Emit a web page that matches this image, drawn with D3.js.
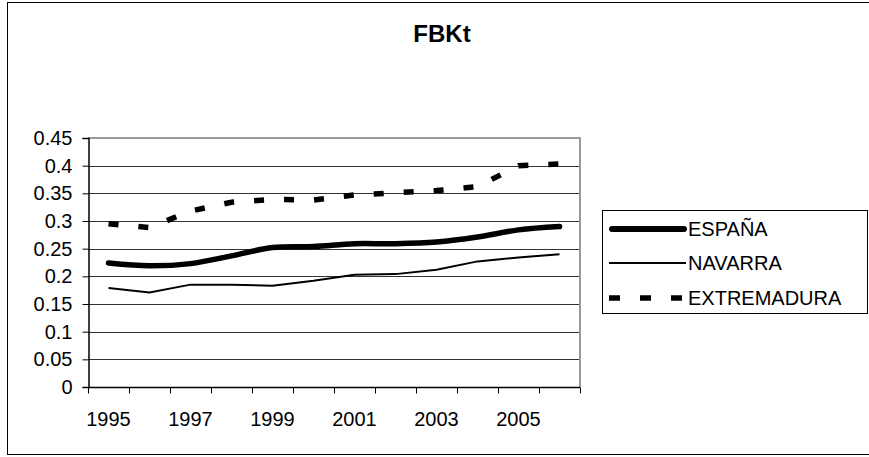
<!DOCTYPE html>
<html>
<head>
<meta charset="utf-8">
<script src="https://cdn.jsdelivr.net/npm/d3@7"></script>
<style>
  html, body { margin: 0; padding: 0; background: #fff; }
  svg { display: block; font-family: Arial, "Liberation Sans", sans-serif; }
</style>
</head>
<body>
<svg id="chart" width="869" height="457"></svg>
<script>
// Years on the horizontal axis
const years = [1995, 1996, 1997, 1998, 1999, 2000, 2001, 2002, 2003, 2004, 2005, 2006];
// Labels shown under the axis (every other year)
const yearLabels = [1995, 1997, 1999, 2001, 2003, 2005];
// Vertical axis ticks
const yTicks = [0, 0.05, 0.1, 0.15, 0.2, 0.25, 0.3, 0.35, 0.4, 0.45];

// Series values
const espana      = [0.224, 0.219, 0.223, 0.237, 0.252, 0.254, 0.259, 0.259, 0.262, 0.271, 0.284, 0.290];
const navarra     = [0.179, 0.171, 0.185, 0.185, 0.183, 0.192, 0.203, 0.204, 0.212, 0.227, 0.234, 0.240];
const extremadura = [0.295, 0.288, 0.318, 0.334, 0.339, 0.338, 0.347, 0.351, 0.355, 0.362, 0.400, 0.403];

const seriesNames = ["ESPAÑA", "NAVARRA", "EXTREMADURA"];

const svg = d3.select("#chart");

// Outer frame
svg.append("rect")
  .attr("x", 7.5).attr("y", 2.5)
  .attr("width", 880).attr("height", 452)
  .attr("fill", "none").attr("stroke", "#000").attr("stroke-width", 1);

// Plot area
const plot = { left: 88, right: 580, top: 138, bottom: 387 };

const x = d3.scaleBand().domain(years).range([plot.left, plot.right]).padding(0);
const y = d3.scaleLinear().domain([0, 0.45]).range([plot.bottom, plot.top]);
const cx = d => x(d) + x.bandwidth() / 2;

// Horizontal gridlines
svg.append("g").selectAll("line")
  .data(yTicks.filter(t => t > 0 && t < 0.45))
  .join("line")
  .attr("x1", plot.left).attr("x2", plot.right)
  .attr("y1", d => Math.round(y(d)) + 0.5).attr("y2", d => Math.round(y(d)) + 0.5)
  .attr("stroke", "#333").attr("stroke-width", 1);

// Plot area border (top and right)
svg.append("path")
  .attr("d", `M${plot.left},${Math.round(y(0.45))}H${plot.right}V${plot.bottom}`)
  .attr("fill", "none").attr("stroke", "#999").attr("stroke-width", 2);

// Y axis
const yAxis = d3.axisLeft(y).tickValues(yTicks).tickSize(6).tickPadding(10)
  .tickFormat(d => d3.format("~g")(d));
const gy = svg.append("g")
  .attr("transform", `translate(${plot.left + 0.5},0)`)
  .call(yAxis);
gy.select(".domain").attr("stroke", "#000").attr("stroke-width", 1.5);
gy.selectAll(".tick line").attr("stroke", "#000");
gy.selectAll(".tick text").attr("font-size", 20).attr("fill", "#000")
  .attr("font-family", "Arial, 'Liberation Sans', sans-serif");

// X axis: ticks at category boundaries, labels at category centres
const gx = svg.append("g").attr("transform", `translate(0,${plot.bottom + 0.5})`);
gx.append("line")
  .attr("x1", plot.left).attr("x2", plot.right)
  .attr("stroke", "#000").attr("stroke-width", 1.5);
const boundaries = years.map(d => x(d)).concat([x(years[years.length - 1]) + x.bandwidth()]);
gx.selectAll("line.tk").data(boundaries).join("line").attr("class", "tk")
  .attr("x1", d => Math.round(d) + 0.5).attr("x2", d => Math.round(d) + 0.5)
  .attr("y1", 0).attr("y2", 6).attr("stroke", "#000");
gx.selectAll("text").data(yearLabels).join("text")
  .attr("x", d => cx(d)).attr("y", 38)
  .attr("text-anchor", "middle")
  .attr("font-size", 20).attr("fill", "#000")
  .text(d => d);

// Lines
const pts = vals => years.map((yr, i) => [cx(yr), y(vals[i])]);

svg.append("path")
  .attr("d", d3.line().curve(d3.curveLinear)(pts(extremadura)))
  .attr("fill", "none").attr("stroke", "#000").attr("stroke-width", 5.5)
  .attr("stroke-dasharray", "10,20");

svg.append("path")
  .attr("d", d3.line().curve(d3.curveLinear)(pts(navarra)))
  .attr("fill", "none").attr("stroke", "#000").attr("stroke-width", 2);

svg.append("path")
  .attr("d", d3.line().curve(d3.curveCatmullRom.alpha(0.5))(pts(espana)))
  .attr("fill", "none").attr("stroke", "#000").attr("stroke-width", 5.5)
  .attr("stroke-linecap", "round").attr("stroke-linejoin", "round");

// Title
svg.append("text")
  .attr("x", 442).attr("y", 42)
  .attr("text-anchor", "middle")
  .attr("font-size", 24).attr("font-weight", "bold").attr("fill", "#000")
  .text("FBKt");

// Legend
const legend = svg.append("g");
legend.append("rect")
  .attr("x", 602.5).attr("y", 210.5)
  .attr("width", 265).attr("height", 103)
  .attr("fill", "#fff").attr("stroke", "#000").attr("stroke-width", 1);

const legendStyles = [
  { width: 6, dash: null, cap: "round" },
  { width: 2, dash: null, cap: "butt" },
  { width: 5.5, dash: "11,20", cap: "butt" }
];
const rowY = [229, 263, 298];
seriesNames.forEach((name, i) => {
  const s = legendStyles[i];
  const ln = legend.append("line")
    .attr("x1", i === 0 ? 612 : 609).attr("x2", i === 0 ? 684 : 686)
    .attr("y1", rowY[i]).attr("y2", rowY[i])
    .attr("stroke", "#000").attr("stroke-width", s.width)
    .attr("stroke-linecap", s.cap);
  if (s.dash) ln.attr("stroke-dasharray", s.dash);
  legend.append("text")
    .attr("x", 688).attr("y", rowY[i] + 7)
    .attr("font-size", 20).attr("fill", "#000")
    .text(name);
});
</script>
</body>
</html>
